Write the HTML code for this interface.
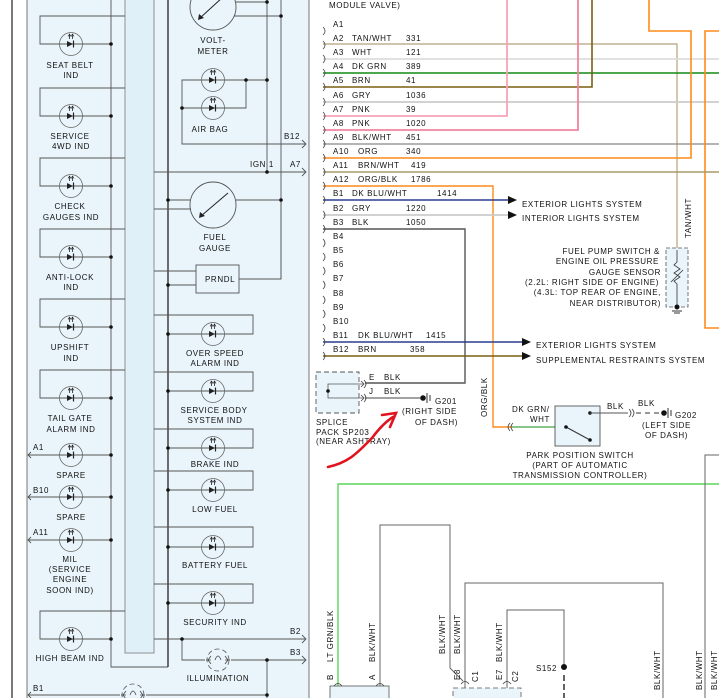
<!DOCTYPE html>
<html><head><meta charset="utf-8"><style>
html,body{margin:0;padding:0;background:#fff;}
svg{display:block;}
text{font-family:"Liberation Sans",sans-serif;font-size:8px;fill:#111;letter-spacing:0.6px;}
</style></head><body>
<svg width="719" height="698" viewBox="0 0 719 698" xmlns="http://www.w3.org/2000/svg">
<defs>
<g id="led">
<circle cx="0" cy="0" r="11.5" fill="none" stroke="#666" stroke-width="0.8"/>
<path d="M-4,-3 L2,0 L-4,3 Z" fill="#222"/>
<line x1="2.5" y1="-3.5" x2="2.5" y2="3.5" stroke="#222" stroke-width="1.2"/>
<path d="M-1.5,-5 V-9 M1.5,-5 V-9" stroke="#222" stroke-width="0.8"/>
<path d="M-3,-7.5 L-1.5,-10 L0,-7.5 M0,-7.5 L1.5,-10 L3,-7.5" fill="none" stroke="#222" stroke-width="0.7"/>
</g>
<g id="lamp">
<circle cx="0" cy="0" r="11" fill="none" stroke="#555" stroke-width="0.8" stroke-dasharray="5 3"/>
<path d="M-12,0 H-7 M7,0 H12 M-7,-4 L-10,0 L-7,4 M7,-4 L10,0 L7,4" fill="none" stroke="#444" stroke-width="0.8"/>
<path d="M-3,0 q3,-8 6,0" fill="none" stroke="#444" stroke-width="0.8"/>
</g>
</defs>

<line x1="12" y1="0" x2="12" y2="698" stroke="#222" stroke-width="1.2"/>
<rect x="27" y="-2" width="282" height="702" fill="#eaf5fb" stroke="#555" stroke-width="0.8"/>
<rect x="125" y="-2" width="29" height="655" fill="#e0f0f9" stroke="#777" stroke-width="0.8"/>
<g stroke="#555" stroke-width="0.9" fill="none">
<polyline points="111,0 111,667 168,667"/>
<line x1="168" y1="0" x2="168" y2="667" stroke="#333" stroke-width="1.4"/>
<polyline points="125,16 40,16 40,44 111,44"/>
<polyline points="125,88 40,88 40,116 111,116"/>
<polyline points="125,158 40,158 40,186 111,186"/>
<polyline points="125,229 40,229 40,257 111,257"/>
<polyline points="125,299 40,299 40,327 111,327"/>
<polyline points="125,370 40,370 40,398 111,398"/>
<polyline points="125,611 40,611 40,639 111,639"/>
<line x1="28" y1="455" x2="111" y2="455"/>
<line x1="28" y1="497" x2="111" y2="497"/>
<line x1="28" y1="540" x2="111" y2="540"/>
<path d="M31,452 L28,455 L31,458 M31,494 L28,497 L31,500 M31,537 L28,540 L31,543"/>
<polyline points="154,315 253,315 253,334 168,334"/>
<polyline points="154,372 253,372 253,391 168,391"/>
<polyline points="154,429 253,429 253,448 168,448"/>
<polyline points="154,471 253,471 253,490 168,490"/>
<polyline points="154,527 253,527 253,547 168,547"/>
<polyline points="154,584 253,584 253,603 168,603"/>
<line x1="236" y1="2" x2="267" y2="2"/><line x1="234" y1="16" x2="281" y2="16"/>
<line x1="267" y1="0" x2="267" y2="172"/><line x1="281" y1="0" x2="281" y2="279"/>
<polyline points="267,80 182,80 182,144 305,144"/>
<polyline points="182,108 246,108 246,80"/>
<line x1="154" y1="172" x2="305" y2="172"/>
<path d="M302,140 L306,144 L302,148 M302,168 L306,172 L302,176"/>
<line x1="168" y1="200" x2="190" y2="200"/><line x1="154" y1="209" x2="191" y2="209"/>
<line x1="236" y1="200" x2="281" y2="200"/>
<line x1="154" y1="271" x2="196" y2="271"/><line x1="168" y1="285" x2="196" y2="285"/>
<polyline points="239,279 281,279 281,200"/>
<line x1="154" y1="639" x2="305" y2="639"/>
<polyline points="182,639 182,660 205,660"/><line x1="231" y1="660" x2="305" y2="660"/>
<line x1="267" y1="660" x2="267" y2="698"/>
<line x1="28" y1="695" x2="120" y2="695"/><line x1="146" y1="695" x2="267" y2="695"/>
<path d="M302,635 L306,639 L302,643 M302,656 L306,660 L302,664 M31,692 L28,695 L31,698"/>
</g>
<circle cx="213" cy="7" r="23" fill="none" stroke="#555" stroke-width="0.9"/>
<line x1="223" y1="-3" x2="200" y2="18" stroke="#222"/><path d="M198,20 l1,-6 l5,4 z" fill="#222"/>
<circle cx="213" cy="205" r="23" fill="none" stroke="#555" stroke-width="0.9"/>
<line x1="228" y1="193" x2="201" y2="216" stroke="#222"/><path d="M199,218 l1,-6 l5,4 z" fill="#222"/>
<rect x="196" y="265" width="43" height="28" fill="#eaf5fb" stroke="#555" stroke-width="0.9"/>
<text x="205" y="282">PRNDL</text>
<g fill="#111">
<circle cx="111" cy="44" r="1.8"/><circle cx="111" cy="116" r="1.8"/><circle cx="111" cy="186" r="1.8"/><circle cx="111" cy="257" r="1.8"/><circle cx="111" cy="327" r="1.8"/><circle cx="111" cy="398" r="1.8"/><circle cx="111" cy="455" r="1.8"/><circle cx="111" cy="497" r="1.8"/><circle cx="111" cy="540" r="1.8"/><circle cx="111" cy="639" r="1.8"/>
<circle cx="168" cy="334" r="1.8"/><circle cx="168" cy="391" r="1.8"/><circle cx="168" cy="448" r="1.8"/><circle cx="168" cy="490" r="1.8"/><circle cx="168" cy="547" r="1.8"/><circle cx="168" cy="603" r="1.8"/>
<circle cx="267" cy="2" r="1.8"/><circle cx="281" cy="16" r="1.8"/><circle cx="267" cy="80" r="1.8"/><circle cx="246" cy="80" r="1.8"/><circle cx="182" cy="108" r="1.8"/><circle cx="267" cy="172" r="1.8"/>
<circle cx="168" cy="200" r="1.8"/><circle cx="281" cy="200" r="1.8"/><circle cx="168" cy="285" r="1.8"/>
<circle cx="182" cy="639" r="1.8"/><circle cx="267" cy="660" r="1.8"/><circle cx="267" cy="695" r="1.8"/>
</g>
<g>
<use href="#led" x="71" y="44"/><use href="#led" x="71" y="116"/><use href="#led" x="71" y="186"/><use href="#led" x="71" y="257"/><use href="#led" x="71" y="327"/><use href="#led" x="71" y="398"/><use href="#led" x="71" y="455"/><use href="#led" x="71" y="497"/><use href="#led" x="71" y="540"/><use href="#led" x="71" y="639"/>
<use href="#led" x="213" y="80"/><use href="#led" x="213" y="108"/>
<use href="#led" x="213" y="334"/><use href="#led" x="213" y="391"/><use href="#led" x="213" y="448"/><use href="#led" x="213" y="490"/><use href="#led" x="213" y="547"/><use href="#led" x="213" y="603"/>
<use href="#lamp" x="218" y="660"/><use href="#lamp" x="133" y="695"/>
</g>
<g text-anchor="middle">
<text x="70" y="68">SEAT BELT</text><text x="71" y="78">IND</text>
<text x="70" y="139">SERVICE</text><text x="71" y="149">4WD IND</text>
<text x="70" y="209">CHECK</text><text x="71" y="220">GAUGES IND</text>
<text x="70" y="280">ANTI-LOCK</text><text x="71" y="290">IND</text>
<text x="70" y="350">UPSHIFT</text><text x="71" y="361">IND</text>
<text x="70" y="421">TAIL GATE</text><text x="71" y="432">ALARM IND</text>
<text x="71" y="478">SPARE</text><text x="71" y="520">SPARE</text>
<text x="70" y="562">MIL</text><text x="70" y="572">(SERVICE</text><text x="70" y="582">ENGINE</text><text x="70" y="593">SOON IND)</text>
<text x="70" y="661">HIGH BEAM IND</text>
<text x="213" y="43">VOLT-</text><text x="213" y="54">METER</text>
<text x="210" y="132">AIR BAG</text>
<text x="215" y="240">FUEL</text><text x="215" y="251">GAUGE</text>
<text x="215" y="356">OVER SPEED</text><text x="215" y="366">ALARM IND</text>
<text x="214" y="413">SERVICE BODY</text><text x="215" y="423">SYSTEM IND</text>
<text x="215" y="467">BRAKE IND</text><text x="215" y="512">LOW FUEL</text><text x="215" y="568">BATTERY FUEL</text><text x="215" y="625">SECURITY IND</text>
<text x="218" y="681">ILLUMINATION</text>
</g>
<text x="33" y="450">A1</text><text x="33" y="493">B10</text><text x="33" y="535">A11</text><text x="33" y="691">B1</text>
<text x="284" y="139">B12</text><text x="250" y="167">IGN 1</text><text x="290" y="167">A7</text>
<text x="290" y="634">B2</text><text x="290" y="655">B3</text>

<g fill="none" stroke-width="1.6">
<polyline points="323,44 677,44 677,250" stroke="#b5a27a" stroke-width="1.2"/>
<line x1="323" y1="59" x2="719" y2="59" stroke="#ddd" stroke-width="1.8"/>
<line x1="323" y1="73" x2="719" y2="73" stroke="#138a13"/>
<polyline points="323,87 592,87 592,0" stroke="#7a5f12"/>
<line x1="323" y1="102" x2="719" y2="102" stroke="#ccc" stroke-width="1.8"/>
<polyline points="323,116 507,116 507,0" stroke="#f7a3b7" stroke-width="1.8"/>
<polyline points="323,130 578,130 578,0" stroke="#f2849e" stroke-width="1.8"/>
<line x1="323" y1="144" x2="719" y2="144" stroke="#888" stroke-width="1.2"/>
<polyline points="323,158 691,158 691,31 649,31 649,0" stroke="#ff8a1a"/>
<polyline points="719,31 705,31 705,328 719,328" stroke="#ff8a1a"/>
<line x1="323" y1="172" x2="719" y2="172" stroke="#a89a6a"/>
<polyline points="323,186 493,186 493,427 512,427" stroke="#ff8a1a" stroke-width="1.4"/>
<line x1="323" y1="200" x2="508" y2="200" stroke="#2a3d8f"/>
<line x1="323" y1="215" x2="508" y2="215" stroke="#ccc" stroke-width="1.8"/>
<polyline points="323,229 465,229 465,383 365,383" stroke="#555" stroke-width="1.4"/>
<line x1="323" y1="342" x2="522" y2="342" stroke="#2a3d8f"/>
<line x1="323" y1="356" x2="522" y2="356" stroke="#7a5f12"/>
<line x1="365" y1="398" x2="420" y2="398" stroke="#444" stroke-width="1"/>
<line x1="512" y1="427" x2="555" y2="427" stroke="#138a13" stroke-width="1"/>
<polyline points="338,698 338,484 719,484" stroke="#5bd65b" stroke-width="1.4"/>
</g>
<g fill="none" stroke="#666" stroke-width="1">
<polyline points="380,698 380,525 450,525 450,668 463,681"/>
<polyline points="465,698 465,583 663,583 663,698"/>
<polyline points="507,690 507,610 564,610 564,667"/>
<line x1="564" y1="675" x2="564" y2="698" stroke="#222" stroke-dasharray="6 3" stroke-width="1.4"/>
<polyline points="705,698 705,455 719,455"/>
</g>
<g fill="#111">
<path d="M508,196 l9,4 l-9,4z"/><path d="M508,211 l9,4 l-9,4z"/><path d="M522,338 l9,4 l-9,4z"/><path d="M522,352 l9,4 l-9,4z"/>
<circle cx="564" cy="667" r="3"/>
</g>
<g fill="none" stroke="#444" stroke-width="0.8">
<path d="M323,27 q4,4 0,8 M323,41 q4,4 0,8 M323,55 q4,4 0,8 M323,69 q4,4 0,8 M323,83 q4,4 0,8 M323,98 q4,4 0,8 M323,112 q4,4 0,8 M323,126 q4,4 0,8 M323,140 q4,4 0,8 M323,154 q4,4 0,8 M323,168 q4,4 0,8 M323,182 q4,4 0,8 M323,196 q4,4 0,8 M323,211 q4,4 0,8 M323,225 q4,4 0,8 M323,239 q4,4 0,8 M323,253 q4,4 0,8 M323,267 q4,4 0,8 M323,281 q4,4 0,8 M323,296 q4,4 0,8 M323,310 q4,4 0,8 M323,324 q4,4 0,8 M323,338 q4,4 0,8 M323,352 q4,4 0,8"/>
</g>
<text x="329" y="8">MODULE VALVE)</text>
<g>
<text x="333" y="27">A1</text>
<text x="333" y="41">A2</text><text x="352" y="41">TAN/WHT</text><text x="406" y="41">331</text>
<text x="333" y="55">A3</text><text x="352" y="55">WHT</text><text x="406" y="55">121</text>
<text x="333" y="69">A4</text><text x="352" y="69">DK GRN</text><text x="406" y="69">389</text>
<text x="333" y="83">A5</text><text x="352" y="83">BRN</text><text x="406" y="83">41</text>
<text x="333" y="98">A6</text><text x="352" y="98">GRY</text><text x="406" y="98">1036</text>
<text x="333" y="112">A7</text><text x="352" y="112">PNK</text><text x="406" y="112">39</text>
<text x="333" y="126">A8</text><text x="352" y="126">PNK</text><text x="406" y="126">1020</text>
<text x="333" y="140">A9</text><text x="352" y="140">BLK/WHT</text><text x="406" y="140">451</text>
<text x="333" y="154">A10</text><text x="358" y="154">ORG</text><text x="406" y="154">340</text>
<text x="333" y="168">A11</text><text x="358" y="168">BRN/WHT</text><text x="411" y="168">419</text>
<text x="333" y="182">A12</text><text x="358" y="182">ORG/BLK</text><text x="411" y="182">1786</text>
<text x="333" y="196">B1</text><text x="352" y="196">DK BLU/WHT</text><text x="437" y="196">1414</text>
<text x="333" y="211">B2</text><text x="352" y="211">GRY</text><text x="406" y="211">1220</text>
<text x="333" y="225">B3</text><text x="352" y="225">BLK</text><text x="406" y="225">1050</text>
<text x="333" y="239">B4</text><text x="333" y="253">B5</text><text x="333" y="267">B6</text><text x="333" y="281">B7</text><text x="333" y="296">B8</text><text x="333" y="310">B9</text><text x="333" y="324">B10</text>
<text x="333" y="338">B11</text><text x="358" y="338">DK BLU/WHT</text><text x="426" y="338">1415</text>
<text x="333" y="352">B12</text><text x="358" y="352">BRN</text><text x="410" y="352">358</text>
</g>
<text x="522" y="207">EXTERIOR LIGHTS SYSTEM</text>
<text x="522" y="221">INTERIOR LIGHTS SYSTEM</text>
<text x="536" y="348">EXTERIOR LIGHTS SYSTEM</text>
<text x="536" y="363">SUPPLEMENTAL RESTRAINTS SYSTEM</text>
<text transform="translate(691,238) rotate(-90)">TAN/WHT</text>
<g text-anchor="end">
<text x="660" y="254">FUEL PUMP SWITCH &amp;</text>
<text x="659" y="264">ENGINE OIL PRESSURE</text>
<text x="661" y="275">GAUGE SENSOR</text>
<text x="659" y="285">(2.2L: RIGHT SIDE OF ENGINE)</text>
<text x="661" y="295">(4.3L: TOP REAR OF ENGINE,</text>
<text x="661" y="306">NEAR DISTRIBUTOR)</text>
</g>
<rect x="666" y="248" width="22" height="59" fill="#eaf5fb" stroke="#555" stroke-dasharray="4 2" stroke-width="0.8"/>
<path d="M677,250 V262 l-3,3 6,4 -6,4 6,4 -6,4 3,3 V307 M671,282 l12,-12" fill="none" stroke="#333" stroke-width="0.8"/>
<circle cx="677" cy="307" r="2.5" fill="#111"/><path d="M672,311 h10 M674,313 h6" stroke="#333"/>

<rect x="316" y="372" width="43" height="41" fill="#eaf5fb" stroke="#555" stroke-dasharray="5 3" stroke-width="0.9"/>
<polyline points="364,384 328,384 328,398 364,398" fill="none" stroke="#555" stroke-width="0.8"/>
<circle cx="328" cy="391" r="1.8" fill="#111"/>
<path d="M361,381 l3,3 -3,3 M361,395 l3,3 -3,3 M364,380 q4,4 0,8 M364,394 q4,4 0,8" fill="none" stroke="#444" stroke-width="0.8"/>
<text x="369" y="380">E</text><text x="384" y="380">BLK</text>
<text x="369" y="394">J</text><text x="384" y="394">BLK</text>
<circle cx="423" cy="398" r="2.8" fill="#111"/><path d="M427,393 v10 M430,395 v6" stroke="#333"/>
<text x="435" y="404">G201</text>
<text x="402" y="414">(RIGHT SIDE</text><text x="415" y="425">OF DASH)</text>
<text x="316" y="425">SPLICE</text><text x="316" y="435">PACK SP203</text><text x="316" y="444">(NEAR ASHTRAY)</text>
<path d="M328,467 C350,462 358,452 372,438 C378,430 385,422 393,417" fill="none" stroke="#e0141e" stroke-width="2.6" stroke-linecap="round"/>
<path d="M382,415 L396,413 L390,427" fill="none" stroke="#e0141e" stroke-width="2.6" stroke-linecap="round"/>
<text transform="translate(487,417) rotate(-90)">ORG/BLK</text>
<path d="M513,423 q-4,4 0,8 M510,423 q-4,4 0,8" fill="none" stroke="#444" stroke-width="0.8"/>

<text x="512" y="412">DK GRN/</text><text x="530" y="422">WHT</text>
<rect x="555" y="406" width="45" height="40" fill="#eaf5fb" stroke="#555" stroke-width="0.9"/>
<line x1="566" y1="427" x2="590" y2="440" stroke="#333"/>
<circle cx="566" cy="427" r="1.8" fill="#111"/><circle cx="590" cy="440" r="1.8" fill="#111"/><circle cx="590" cy="413" r="1.8" fill="#111"/>
<line x1="590" y1="413" x2="628" y2="413" stroke="#555"/>
<path d="M629,409 q4,4 0,8 M632,409 q4,4 0,8" fill="none" stroke="#444" stroke-width="0.8"/>
<line x1="636" y1="413" x2="661" y2="413" stroke="#333" stroke-dasharray="5 4"/>
<circle cx="664" cy="413" r="2.8" fill="#111"/><path d="M668,408 v10 M671,410 v6" stroke="#333"/>
<text x="607" y="409">BLK</text><text x="638" y="406">BLK</text><text x="675" y="418">G202</text>
<text x="642" y="428">(LEFT SIDE</text><text x="645" y="438">OF DASH)</text>
<g text-anchor="middle">
<text x="580" y="458">PARK POSITION SWITCH</text>
<text x="580" y="468">(PART OF AUTOMATIC</text>
<text x="580" y="478">TRANSMISSION CONTROLLER)</text>
</g>

<g>
<text transform="translate(333,662) rotate(-90)">LT GRN/BLK</text>
<text transform="translate(375,662) rotate(-90)">BLK/WHT</text>
<text transform="translate(445,654) rotate(-90)">BLK/WHT</text>
<text transform="translate(460,654) rotate(-90)">BLK/WHT</text>
<text transform="translate(502,662) rotate(-90)">BLK/WHT</text>
<text transform="translate(660,690) rotate(-90)">BLK/WHT</text>
<text transform="translate(702,690) rotate(-90)">BLK/WHT</text>
<text transform="translate(717,690) rotate(-90)">BLK/WHT</text>
<text transform="translate(333,680) rotate(-90)">B</text>
<text transform="translate(375,680) rotate(-90)">A</text>
<text transform="translate(460,680) rotate(-90)">E8</text>
<text transform="translate(502,680) rotate(-90)">E7</text>
<text transform="translate(478,682) rotate(-90)">C1</text>
<text transform="translate(518,682) rotate(-90)">C2</text>
<text x="536" y="671">S152</text>
</g>
<rect x="330" y="686" width="59" height="14" fill="#eaf5fb" stroke="#555" stroke-width="0.8"/>
<rect x="453" y="688" width="68" height="12" fill="#eaf5fb" stroke="#555" stroke-dasharray="5 3" stroke-width="0.8"/>
<path d="M334,686 q4,-5 8,0 M376,686 q4,-5 8,0 M461,684 q4,-5 8,0 M503,684 q4,-5 8,0" fill="none" stroke="#444" stroke-width="0.8"/>
</svg>
</body></html>
